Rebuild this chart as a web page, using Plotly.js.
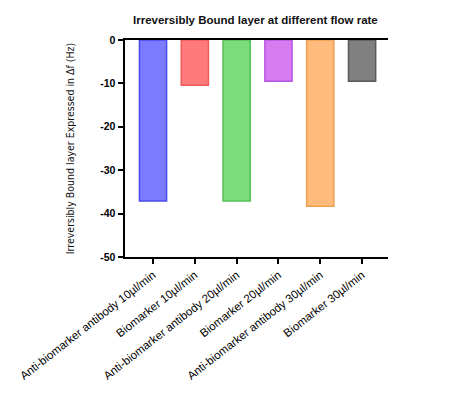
<!DOCTYPE html>
<html><head><meta charset="utf-8">
<script src="https://cdn.plot.ly/plotly-3.0.1.min.js"></script>
<style>html,body{margin:0;padding:0;background:#fff;}#chart{width:452px;height:399px;}</style>
</head><body><div id="chart"></div>
<script>
const categories = ["Anti-biomarker antibody 10µl/min","Biomarker 10µl/min","Anti-biomarker antibody 20µl/min","Biomarker 20µl/min","Anti-biomarker antibody 30µl/min","Biomarker 30µl/min"];
const values = [-37.1, -10.4, -37.1, -9.5, -38.3, -9.5];
const fillColors = ["#7b7bff","#ff7b7b","#7bdc7b","#d47cf0","#ffbb7b","#808080"];
const lineColors = ["#4b4bf0","#f05a5a","#55c055","#b954e0","#f0a050","#5a5a5a"];
const yTicks = [0,-10,-20,-30,-40,-50];

const trace = {
  type: "bar",
  x: categories,
  y: values,
  width: 0.65,
  marker: {color: fillColors, line: {color: lineColors, width: 1.5}},
  hoverinfo: "none"
};
const layout = {
  width: 452, height: 399,
  margin: {l: 125, r: 64, t: 40, b: 142},
  paper_bgcolor: "#fff", plot_bgcolor: "#fff",
  showlegend: false,
  title: {text: "<b>Irreversibly Bound layer at different flow rate</b>", x: 0.565, xanchor: "center", y: 0.95, yanchor: "middle",
          font: {family: "Liberation Sans, Arial, sans-serif", size: 11.5, color: "#111"}},
  xaxis: {
    type: "category", range: [-0.67, 5.62],
    showline: true, linecolor: "#000", linewidth: 2, mirror: true,
    ticks: "outside", ticklen: 5, tickwidth: 2, tickcolor: "#000",
    tickangle: -38, showgrid: false, zeroline: false,
    tickfont: {family: "Liberation Sans, Arial, sans-serif", size: 11.5, color: "#000"}
  },
  yaxis: {
    range: [-50, 0], tickvals: yTicks, ticktext: yTicks.map(v => "<b>" + v + "</b>"),
    showline: true, linecolor: "#000", linewidth: 2.5,
    ticks: "outside", ticklen: 5, tickwidth: 2, tickcolor: "#000",
    showgrid: false, zeroline: false,
    tickfont: {family: "Liberation Sans, Arial, sans-serif", size: 10.5, color: "#000"},
    title: {text: "Irreversibly Bound layer Expressed in Δf (Hz)", standoff: 24,
            font: {family: "DejaVu Sans Condensed, Liberation Sans Narrow, sans-serif", size: 10.5, color: "#111"}}
  }
};
Plotly.newPlot("chart", [trace], layout, {staticPlot: true, displayModeBar: false});
</script></body></html>
